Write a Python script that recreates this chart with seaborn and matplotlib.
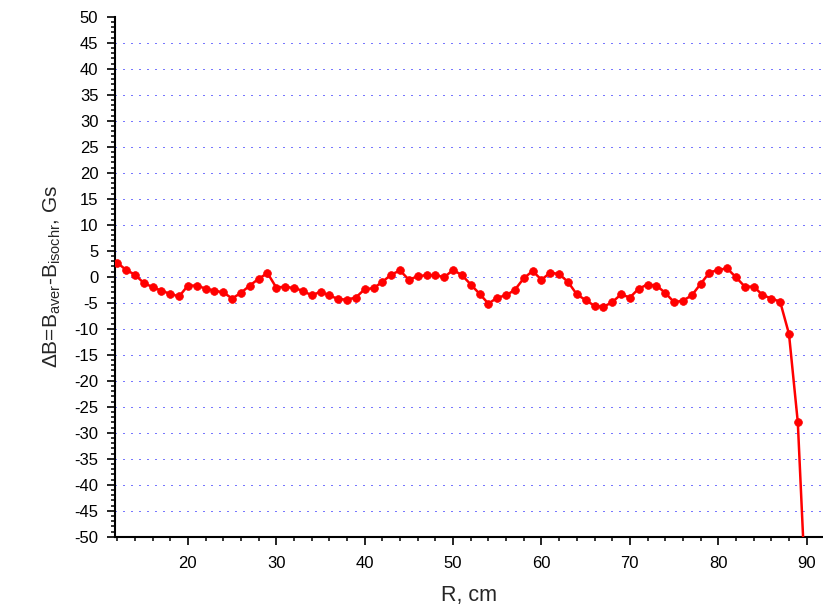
import numpy as np
import pandas as pd
import matplotlib
matplotlib.use("Agg")
import matplotlib.pyplot as plt
from matplotlib.ticker import MultipleLocator
import seaborn as sns

R_cm = list(range(12, 91))
delta_B = [
    2.7, 1.3, 0.4, -1.2, -2.0, -2.7, -3.3, -3.8, -1.7, -1.7,
    -2.3, -2.7, -3.0, -4.2, -3.1, -1.7, -0.4, 0.7, -2.1, -1.9,
    -2.2, -2.7, -3.6, -2.9, -3.6, -4.3, -4.4, -4.0, -2.4, -2.2,
    -1.0, 0.4, 1.2, -0.6, 0.1, 0.3, 0.3, -0.1, 1.3, 0.3,
    -1.5, -3.3, -5.2, -4.0, -3.6, -2.5, -0.3, 1.1, -0.6, 0.8,
    0.5, -1.0, -3.4, -4.5, -5.6, -5.8, -4.9, -3.4, -4.0, -2.3,
    -1.5, -1.7, -3.1, -4.9, -4.6, -3.6, -1.4, 0.8, 1.3, 1.6,
    -0.1, -1.9, -1.9, -3.5, -4.2, -4.8, -11.0, -28.0, -65.0,
]
x_label = "R, cm"
y_label = r"ΔB=B$_{\mathregular{aver}}$-B$_{\mathregular{isochr}}$, Gs"

df = pd.DataFrame({"R": R_cm, "dB": delta_B})

sns.set_theme(style="ticks")
plt.rcParams["font.family"] = ["Liberation Sans", "DejaVu Sans"]
plt.rcParams["mathtext.fontset"] = "custom"
plt.rcParams["mathtext.rm"] = "Liberation Sans"
plt.rcParams["mathtext.it"] = "Liberation Sans:italic"
plt.rcParams["axes.unicode_minus"] = False

fig = plt.figure(figsize=(8.23, 6.16), dpi=100)
ax = fig.add_axes([115 / 823, 1 - 536.7 / 616, 1 - 115 / 823, (536.7 - 16.7) / 616])

sns.lineplot(data=df, x="R", y="dB", ax=ax, color="#ff0000", linewidth=1.8,
             marker="o", markersize=5.6, markeredgecolor="#ff0000",
             markeredgewidth=0.5, zorder=3)

ax.set_xlim(11.75, 91.85)
ax.set_ylim(-50, 50)
ax.xaxis.set_major_locator(MultipleLocator(10))
ax.xaxis.set_minor_locator(MultipleLocator(2))
ax.yaxis.set_major_locator(MultipleLocator(5))
ax.yaxis.set_minor_locator(MultipleLocator(1))

for side in ["top", "right"]:
    ax.spines[side].set_visible(False)
for side in ["left", "bottom"]:
    ax.spines[side].set_linewidth(1.5)
    ax.spines[side].set_color("black")

ax.tick_params(which="major", direction="out", length=6, width=1.2,
               labelsize=12, colors="black")
ax.tick_params(axis="x", which="major", pad=8)
ax.tick_params(axis="y", which="major", pad=6)
ax.tick_params(which="minor", direction="out", length=3, width=1.1, colors="black")

ax.grid(axis="y", which="major", color="#7777ff", linestyle=(0, (1, 4.5)),
        linewidth=1.0, antialiased=False)
for g, v in zip(ax.get_ygridlines(), ax.get_yticks()):
    if abs(v) >= 50:
        g.set_visible(False)

ax.set_xlabel(x_label, fontsize=15.5, labelpad=10)
ax.set_ylabel(y_label, fontsize=15, labelpad=8)

fig.savefig("out.png", dpi=100)
